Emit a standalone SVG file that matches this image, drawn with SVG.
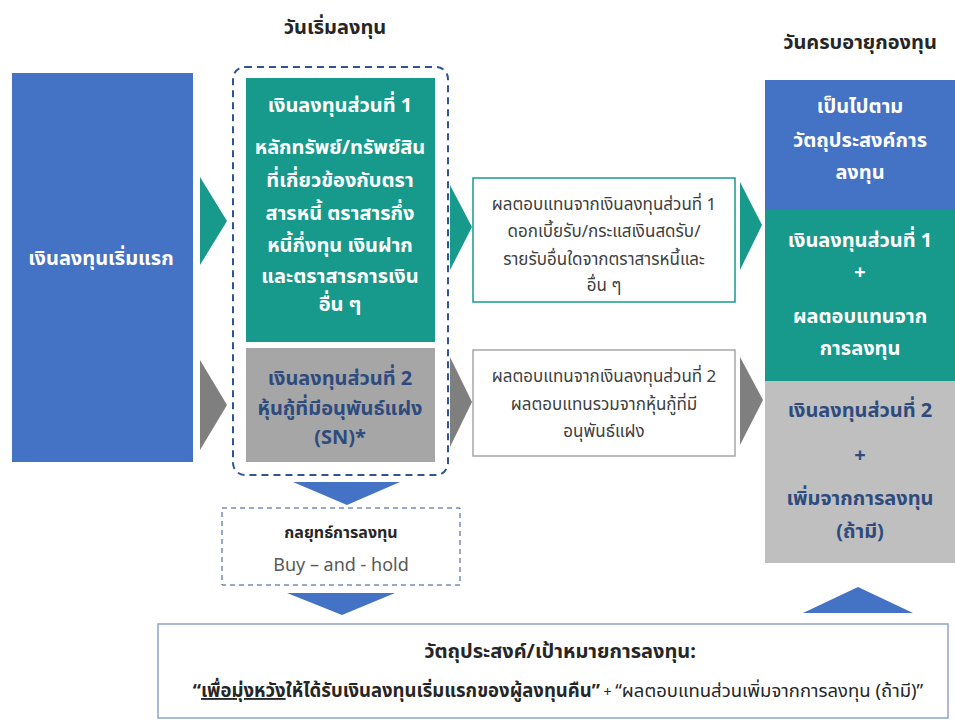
<svg xmlns="http://www.w3.org/2000/svg" width="955" height="720" viewBox="0 0 955 720">
<style>
text{font-family:"Noto Sans","Noto Sans Thai","DejaVu Sans",sans-serif;text-anchor:middle}
.wb{fill:#ffffff;font-weight:bold;font-size:20px}
.db{fill:#2E4B7E;font-weight:bold;font-size:20px}
.hd{fill:#262626;font-weight:bold;font-size:20px}
.sm{fill:#404040;font-size:17px}
.teal{fill:#17998C}
.gray{fill:#A6A6A6}
.blue{fill:#4472C4}
.tealA{fill:#17998C}
.grayA{fill:#7F7F7F}
</style>
<rect width="955" height="720" fill="#ffffff"/>
<text class="hd" x="335" y="34">วันเริ่มลงทุน</text>
<text class="hd" x="860" y="49">วันครบอายุกองทุน</text>

<g id="initial">
<rect x="12" y="73" width="181" height="389" class="blue"/>
<text class="wb" x="101" y="265">เงินลงทุนเริ่มแรก</text>
</g>

<g id="start-group">
<rect x="233" y="67" width="215" height="408" rx="12" fill="none" stroke="#2F5597" stroke-width="2" stroke-dasharray="7 5"/>
</g>

<g id="part1">
<rect x="246" y="78" width="189" height="264" class="teal"/>
<text class="wb" x="340" y="112">เงินลงทุนส่วนที่ 1</text>
<text class="wb" x="340" y="154">หลักทรัพย์/ทรัพย์สิน</text>
<text class="wb" x="340" y="187">ที่เกี่ยวข้องกับตรา</text>
<text class="wb" x="340" y="220">สารหนี้ ตราสารกึ่ง</text>
<text class="wb" x="340" y="252">หนี้กึ่งทุน  เงินฝาก</text>
<text class="wb" x="340" y="283">และตราสารการเงิน</text>
<text class="wb" x="340" y="311">อื่น ๆ</text>
</g>

<g id="part2">
<rect x="246" y="348" width="189" height="114" class="gray"/>
<text class="db" x="340" y="385">เงินลงทุนส่วนที่ 2</text>
<text class="db" x="340" y="415">หุ้นกู้ที่มีอนุพันธ์แฝง</text>
<text class="db" x="340" y="444">(SN)*</text>
</g>

<g id="return1">
<rect x="473" y="178" width="262" height="124" fill="#ffffff" stroke="#17998C" stroke-width="1.5"/>
<text class="sm" x="604" y="210">ผลตอบแทนจากเงินลงทุนส่วนที่ 1</text>
<text class="sm" x="604" y="237">ดอกเบี้ยรับ/กระแสเงินสดรับ/</text>
<text class="sm" x="604" y="265">รายรับอื่นใดจากตราสารหนี้และ</text>
<text class="sm" x="604" y="291">อื่น ๆ</text>
</g>

<g id="return2">
<rect x="473" y="350" width="262" height="106" fill="#ffffff" stroke="#A6A6A6" stroke-width="1.5"/>
<text class="sm" x="604" y="382">ผลตอบแทนจากเงินลงทุนส่วนที่ 2</text>
<text class="sm" x="604" y="410">ผลตอบแทนรวมจากหุ้นกู้ที่มี</text>
<text class="sm" x="604" y="437">อนุพันธ์แฝง</text>
</g>

<g id="maturity">
<rect x="765" y="80" width="190" height="130" class="blue"/>
<text class="wb" x="860" y="113">เป็นไปตาม</text>
<text class="wb" x="860" y="147">วัตถุประสงค์การ</text>
<text class="wb" x="860" y="179">ลงทุน</text>
<rect x="765" y="210" width="190" height="171" class="teal"/>
<text class="wb" x="860" y="247">เงินลงทุนส่วนที่ 1</text>
<text class="wb" x="860" y="279">+</text>
<text class="wb" x="860" y="323">ผลตอบแทนจาก</text>
<text class="wb" x="860" y="355">การลงทุน</text>
<rect x="765" y="381" width="190" height="182" fill="#BFBFBF"/>
<text class="db" x="860" y="417">เงินลงทุนส่วนที่ 2</text>
<text class="db" x="860" y="462">+</text>
<text class="db" x="860" y="505">เพิ่มจากการลงทุน</text>
<text class="db" x="860" y="538">(ถ้ามี)</text>
</g>

<g id="strategy">
<rect x="222" y="508" width="238" height="77" fill="#ffffff" stroke="#2F5597" stroke-width="1" stroke-dasharray="5 4"/>
<text x="341" y="538" style="fill:#262626;font-weight:bold;font-size:16px">กลยุทธ์การลงทุน</text>
<text x="341" y="571" style="fill:#595959;font-size:18px">Buy – and - hold</text>
</g>

<g id="objective">
<rect x="158" y="624" width="790" height="94" fill="#ffffff" stroke="#8EA3C8" stroke-width="1.5"/>
<text x="560" y="658" style="fill:#262626;font-weight:bold;font-size:20px">วัตถุประสงค์/เป้าหมายการลงทุน:</text>
<text x="558" y="697" style="fill:#262626;font-size:18.5px"><tspan font-weight="bold">“</tspan><tspan font-weight="bold" text-decoration="underline">เพื่อมุ่งหวัง</tspan><tspan font-weight="bold">ให้ได้รับเงินลงทุนเริ่มแรกของผู้ลงทุนคืน”</tspan><tspan font-size="14"> + </tspan><tspan>“ผลตอบแทนส่วนเพิ่มจากการลงทุน (ถ้ามี)”</tspan></text>
</g>

<g id="connectors">
<polygon points="200,177 227,221 200,265" class="tealA"/>
<polygon points="200,360 227,405 200,450" class="grayA"/>
<polygon points="450,185 472,227 450,270" class="tealA"/>
<polygon points="450,357 472,402 450,447" class="grayA"/>
<polygon points="740,182 762,225 740,270" class="tealA"/>
<polygon points="740,357 763,400 740,445" class="grayA"/>
<polygon points="293,482 400,482 347,505" class="blue"/>
<polygon points="287,593 395,593 342,615" class="blue"/>
<polygon points="803,613 913,613 858,587" class="blue"/>
</g>
</svg>
